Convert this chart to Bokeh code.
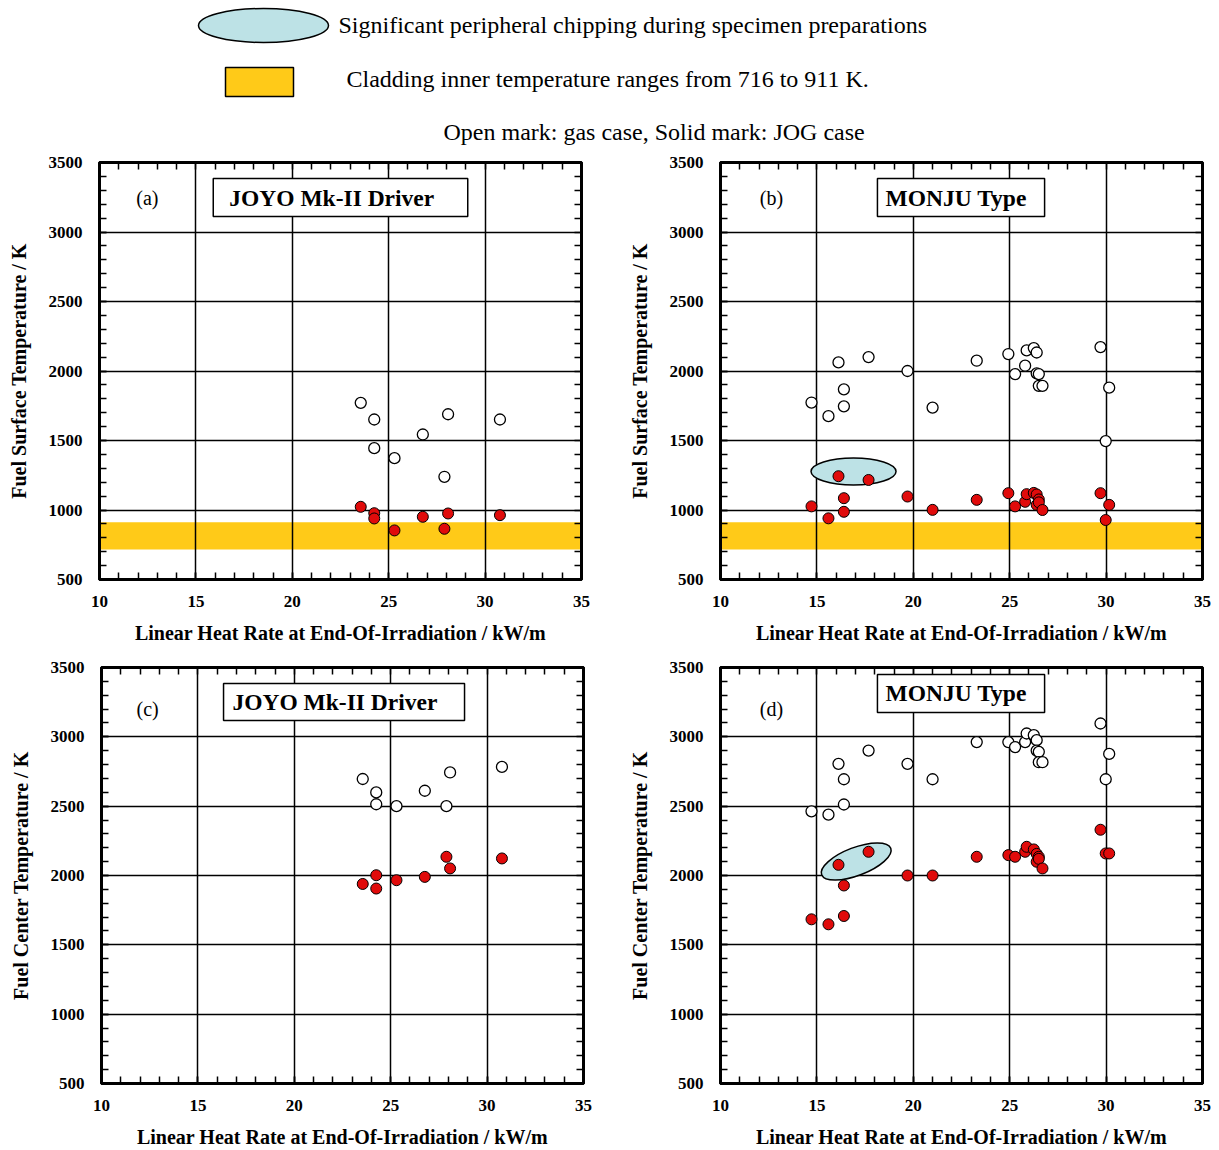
from bokeh.plotting import figure
from bokeh.layouts import column, row
from bokeh.models import Range1d, LinearAxis, FixedTicker, Label
from bokeh.embed import file_html
from bokeh.resources import INLINE

FONT = "Liberation Serif"

# ---------------- data ----------------
X_TICKS = [10, 15, 20, 25, 30, 35]
Y_TICKS = [500, 1000, 1500, 2000, 2500, 3000, 3500]
CLAD_RANGE = [716, 911]

# JOYO Mk-II Driver pins: linear heat rate (kW/m)
joyo_lhr = [23.55, 24.25, 24.25, 25.30, 26.77, 27.89, 28.08, 30.77]
joyo_surf_gas = [1771, 1651, 1445, 1373, 1543, 1239, 1689, 1651]
joyo_surf_jog = [1023, 977, 939, 853, 951, 865, 975, 963]
joyo_ctr_gas = [2696, 2599, 2514, 2500, 2611, 2500, 2743, 2783]
joyo_ctr_jog = [1939, 2002, 1906, 1966, 1990, 2135, 2051, 2123]

# MONJU type pins
monju_lhr = [14.72, 15.60, 16.12, 16.40, 16.40, 17.68, 19.70, 21.00, 23.29, 24.93, 25.28,
             25.80, 25.88, 26.25, 26.40, 26.40, 26.51, 26.51, 26.70, 29.71, 29.98, 30.16]
monju_surf_gas = [1773, 1675, 2062, 1746, 1868, 2100, 2000, 1737, 2074, 2122, 1978,
                  2038, 2148, 2165, 2133, 1983, 1978, 1893, 1893, 2172, 1496, 1880]
monju_surf_jog = [1026, 940, 1243, 1085, 987, 1216, 1097, 1001, 1073, 1121, 1026,
                  1059, 1114, 1123, 1112, 1037, 1076, 1055, 1000, 1121, 928, 1037]
monju_ctr_gas = [2463, 2439, 2805, 2694, 2512, 2901, 2805, 2694, 2962, 2962, 2926,
                 2962, 3024, 3012, 2976, 2901, 2892, 2817, 2817, 3096, 2694, 2877]
monju_ctr_jog = [1684, 1648, 2077, 1928, 1708, 2171, 2000, 2000, 2135, 2147, 2135,
                 2171, 2207, 2188, 2156, 2099, 2135, 2120, 2051, 2330, 2159, 2159]

# chipping ellipse centres (kW/m, K)
chip_b = (16.9, 1277)
chip_d = (17.04, 2101)

YELLOW = "#ffca18"
CHIP = "#bde2e6"
RED = "#e00b0b"

FRAME_W, FRAME_H = 482, 417


def make_panel(x, y_gas, y_jog, ylabel, tag, tag_xy, title, box, title_xy,
               borders, band=False, chip=None):
    left, right, top, bottom = borders
    p = figure(width=left + FRAME_W + right, height=top + FRAME_H + bottom,
               x_range=Range1d(10, 35), y_range=Range1d(500, 3500),
               output_backend="svg", toolbar_location=None,
               min_border_left=left, min_border_right=right,
               min_border_top=top, min_border_bottom=bottom)
    p.outline_line_color = "black"
    p.outline_line_width = 3
    p.background_fill_color = "white"
    p.border_fill_color = "white"

    x_minor = list(range(10, 36))
    y_minor = list(range(500, 3501, 100))
    xt = FixedTicker(ticks=X_TICKS, minor_ticks=x_minor)
    yt = FixedTicker(ticks=Y_TICKS, minor_ticks=y_minor)
    p.xaxis.ticker = xt
    p.yaxis.ticker = yt
    p.xgrid.ticker = xt
    p.ygrid.ticker = yt
    for g in (p.xgrid, p.ygrid):
        g.grid_line_color = "black"
        g.grid_line_width = 1.5

    def style(ax):
        ax.major_tick_in = 7
        ax.major_tick_out = 0
        ax.minor_tick_in = 7
        ax.minor_tick_out = 0
        ax.major_tick_line_width = 1.5
        ax.minor_tick_line_width = 1.5
        ax.axis_line_width = 3
        ax.major_label_text_font = FONT
        ax.major_label_text_font_style = "bold"
        ax.major_label_text_font_size = "17px"
        ax.major_label_text_color = "black"
        ax.axis_label_text_font = FONT
        ax.axis_label_text_font_style = "bold"
        ax.axis_label_text_font_size = "20px"
        ax.axis_label_text_color = "black"

    style(p.xaxis[0])
    style(p.yaxis[0])
    p.xaxis.major_label_standoff = 16
    p.yaxis.major_label_standoff = 17
    p.xaxis.axis_label = "Linear Heat Rate at End-Of-Irradiation / kW/m"
    p.yaxis.axis_label = ylabel
    p.xaxis.axis_label_standoff = 12
    p.yaxis.axis_label_standoff = 16

    # tick-only axes on top and right (minor ticks only, so no labels)
    top_ax = LinearAxis(ticker=FixedTicker(ticks=[], minor_ticks=x_minor))
    style(top_ax)
    p.add_layout(top_ax, "above")
    right_ax = LinearAxis(ticker=FixedTicker(ticks=[], minor_ticks=y_minor))
    style(right_ax)
    p.add_layout(right_ax, "right")

    if band:
        p.quad(left=[10], right=[35], bottom=[CLAD_RANGE[0]], top=[CLAD_RANGE[1]],
               fill_color=YELLOW, line_color=None, level="image")

    # title box
    p.quad(left=[box[0]], right=[box[1]], bottom=[box[3]], top=[box[2]],
           fill_color="white", line_color="black", line_width=1.5)
    p.add_layout(Label(x=title_xy[0], y=title_xy[1], text=title, text_font=FONT,
                       text_font_style="bold", text_font_size="23.5px",
                       text_baseline="middle", text_align="left", text_color="black"))
    p.add_layout(Label(x=tag_xy[0], y=tag_xy[1], text=tag, text_font=FONT,
                       text_font_size="20px", text_baseline="middle",
                       text_align="center", text_color="black"))

    if chip is not None:
        cx, cy, w, h, ang = chip
        p.ellipse(x=[cx], y=[cy], width=w, height=h, width_units="screen",
                  height_units="screen", angle=ang, angle_units="deg",
                  fill_color=CHIP, line_color="black", line_width=1.5)

    p.scatter(x, y_gas, size=11, fill_color="white", line_color="black", line_width=1.3)
    p.scatter(x, y_jog, size=11, fill_color=RED, line_color="black", line_width=1.0)
    return p


pa = make_panel(joyo_lhr, joyo_surf_gas, joyo_surf_jog, "Fuel Surface Temperature / K",
                "(a)", (12.48, 3248), "JOYO Mk-II Driver", (15.9, 29.1, 3385, 3112),
                (16.73, 3248), (99, 29, 12, 71), band=True)
pb = make_panel(monju_lhr, monju_surf_gas, monju_surf_jog, "Fuel Surface Temperature / K",
                "(b)", (12.64, 3248), "MONJU Type", (18.14, 26.81, 3385, 3112),
                (18.56, 3248), (110, 17, 12, 71), band=True,
                chip=(chip_b[0], chip_b[1], 85, 27, 0))
pc = make_panel(joyo_lhr, joyo_ctr_gas, joyo_ctr_jog, "Fuel Center Temperature / K",
                "(c)", (12.39, 3204), "JOYO Mk-II Driver", (16.33, 28.83, 3385, 3118),
                (16.79, 3248), (101, 27, 17, 66))
pd = make_panel(monju_lhr, monju_ctr_gas, monju_ctr_jog, "Fuel Center Temperature / K",
                "(d)", (12.64, 3204), "MONJU Type", (18.14, 26.81, 3450, 3176),
                (18.56, 3313), (110, 17, 17, 66),
                chip=(chip_d[0], chip_d[1], 74, 28, 21))

# ---------------- header legend ----------------
h = figure(width=1219, height=150, x_range=Range1d(0, 1219), y_range=Range1d(150, 0),
           x_axis_type=None, y_axis_type=None, output_backend="svg",
           toolbar_location=None, min_border=0)
h.outline_line_color = None
h.xgrid.visible = False
h.ygrid.visible = False
h.ellipse(x=[263], y=[25], width=130, height=34, fill_color=CHIP,
          line_color="black", line_width=1.5)
h.quad(left=[225], right=[293], top=[67], bottom=[96], fill_color=YELLOW,
       line_color="black", line_width=1.5)
for tx, ty, t in [(338, 24, "Significant peripheral chipping during specimen preparations"),
                  (346, 78, "Cladding inner temperature ranges from 716 to 911 K."),
                  (443, 131, "Open mark: gas case, Solid mark: JOG case")]:
    h.add_layout(Label(x=tx, y=ty, text=t, text_font=FONT, text_font_size="24px",
                       text_baseline="middle", text_align="left", text_color="black"))

layout = column(h, row(pa, pb), row(pc, pd))
open("out.html", "w").write(file_html(layout, INLINE))
